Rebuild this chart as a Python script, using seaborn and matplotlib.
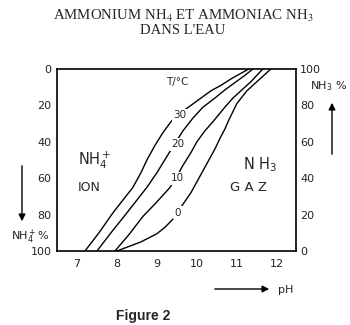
import matplotlib
matplotlib.use("Agg")
import matplotlib.pyplot as plt
import seaborn as sns
import pandas as pd

# ---- data (pH, NH3 %) ----
ph_30 = [7.2, 7.55, 7.9, 8.15, 8.4, 8.6, 8.75, 8.95, 9.15, 9.35, 9.6, 9.85, 10.1, 10.35, 10.6, 10.85, 11.05, 11.3]
pct_30 = [0, 10, 21, 28, 35, 43, 50, 58, 65, 71, 76, 80, 84, 88, 91, 94.5, 97, 100]
ph_20 = [7.5, 7.85, 8.25, 8.5, 8.75, 9.0, 9.25, 9.45, 9.65, 9.9, 10.15, 10.45, 10.7, 10.95, 11.2, 11.4]
pct_20 = [0, 10, 21, 28, 35, 43, 52, 59, 66, 73, 79, 84, 88.5, 92.5, 96.5, 100]
ph_10 = [7.95, 8.3, 8.65, 9.0, 9.33, 9.5, 9.65, 9.85, 10.0, 10.2, 10.4, 10.7, 10.9, 11.1, 11.35, 11.65]
pct_10 = [0, 9, 19, 27, 35, 41, 47, 54, 60, 66, 71, 79, 84, 88, 93, 100]
ph_0 = [8.0, 8.3, 8.6, 9.0, 9.2, 9.4, 9.63, 9.85, 10.0, 10.15, 10.3, 10.45, 10.58, 10.7, 10.8, 11.0, 11.25, 11.5, 11.7, 11.85]
pct_0 = [0, 2.5, 5, 9.5, 13, 17.5, 25, 32, 38, 44, 50, 56, 62, 67, 72, 81, 88, 93, 97, 100]

temps = ["30", "20", "10", "0"]
label_pos = [(9.58, 74.5), (9.53, 58.6), (9.5, 40), (9.53, 21)]

x_ticks = [7, 8, 9, 10, 11, 12]
y_ticks = [0, 20, 40, 60, 80, 100]
left_labels = ["100", "80", "60", "40", "20", "0"]
right_labels = ["0", "20", "40", "60", "80", "100"]

rows = []
for t, xs, ys in zip(temps, [ph_30, ph_20, ph_10, ph_0], [pct_30, pct_20, pct_10, pct_0]):
    for x, y in zip(xs, ys):
        rows.append({"T": t, "pH": x, "NH3": y})
df = pd.DataFrame(rows)

sns.set_style("white")
plt.rcParams["font.family"] = ["DejaVu Sans"]

fig = plt.figure(figsize=(3.5, 3.25), dpi=100)
ax = fig.add_axes([57 / 350, 1 - 251 / 325, (296 - 57) / 350, (251 - 69) / 325])

sns.lineplot(data=df, x="pH", y="NH3", units="T", estimator=None, sort=False,
             color="black", linewidth=1.0, ax=ax, legend=False)

ax.set_xlim(6.5, 12.48)
ax.set_ylim(0, 100)
for s in ax.spines.values():
    s.set_color("black")
    s.set_linewidth(1.2)

ax.set_xticks(x_ticks)
ax.set_xticklabels([str(v) for v in x_ticks])
ax.set_yticks(y_ticks)
ax.set_yticklabels(left_labels)
ax.tick_params(axis="both", length=0, labelsize=8, colors="#222222")
ax.tick_params(axis="x", pad=6)
ax.tick_params(axis="y", pad=4)
ax.set_xlabel("")
ax.set_ylabel("")

ax2 = ax.twinx()
ax2.set_ylim(0, 100)
ax2.set_yticks(y_ticks)
ax2.set_yticklabels(right_labels)
ax2.tick_params(axis="y", length=0, labelsize=8, colors="#222222", pad=3)
for s in ax2.spines.values():
    s.set_visible(False)

# curve labels
for t, (x, y) in zip(temps, label_pos):
    ax.text(x, y, t, fontsize=7.5, ha="center", va="center",
            bbox=dict(facecolor="white", edgecolor="none", pad=1.0))
ax.text(9.5, 93, "T/°C", fontsize=7.5, ha="center", va="center",
        bbox=dict(facecolor="white", edgecolor="none", pad=0.5))

# region labels
ax.text(7.03, 50, "NH$_4^+$", fontsize=10.5, ha="left", va="center")
ax.text(7.03, 35, "ION", fontsize=9, ha="left", va="center")
ax.text(11.15, 47.5, "N H$_3$", fontsize=10.5, ha="left", va="center")
ax.text(10.83, 35, "G A Z", fontsize=9.5, ha="left", va="center")

# title
fig.text(183 / 350, 1 - 16 / 325, "AMMONIUM NH$_4$ ET AMMONIAC NH$_3$",
         family="Liberation Serif", math_fontfamily="stix", fontsize=10.7,
         ha="center", va="center")
fig.text(183 / 350, 1 - 31 / 325, "DANS L'EAU", family="Liberation Serif",
         fontsize=10.5, ha="center", va="center")

# left arrow and label
fig.patches.append(matplotlib.patches.FancyArrowPatch(
    (22 / 350, 1 - 163 / 325), (22 / 350, 1 - 224 / 325), transform=fig.transFigure,
    arrowstyle="-|>", mutation_scale=10, color="black", lw=1))
fig.text(30 / 350, 1 - 237 / 325, "NH$_4^+$%", fontsize=8, ha="center", va="center",
         color="#222222")

# right arrow and label
fig.patches.append(matplotlib.patches.FancyArrowPatch(
    (332 / 350, 1 - 157 / 325), (332 / 350, 1 - 100 / 325), transform=fig.transFigure,
    arrowstyle="-|>", mutation_scale=10, color="black", lw=1))
fig.text(329 / 350, 1 - 86 / 325, "NH$_3$ %", fontsize=8, ha="center", va="center",
         color="#222222")

# pH arrow
fig.patches.append(matplotlib.patches.FancyArrowPatch(
    (212 / 350, 1 - 289 / 325), (272 / 350, 1 - 289 / 325), transform=fig.transFigure,
    arrowstyle="-|>", mutation_scale=10, color="black", lw=1))
fig.text(278 / 350, 1 - 290 / 325, "pH", fontsize=8, ha="left", va="center",
         color="#222222")

fig.text(143 / 350, 1 - 316 / 325, "Figure 2", family="Liberation Sans",
         fontweight="bold", fontsize=10, ha="center", va="center")

fig.savefig("out.png", dpi=100, facecolor="white")
